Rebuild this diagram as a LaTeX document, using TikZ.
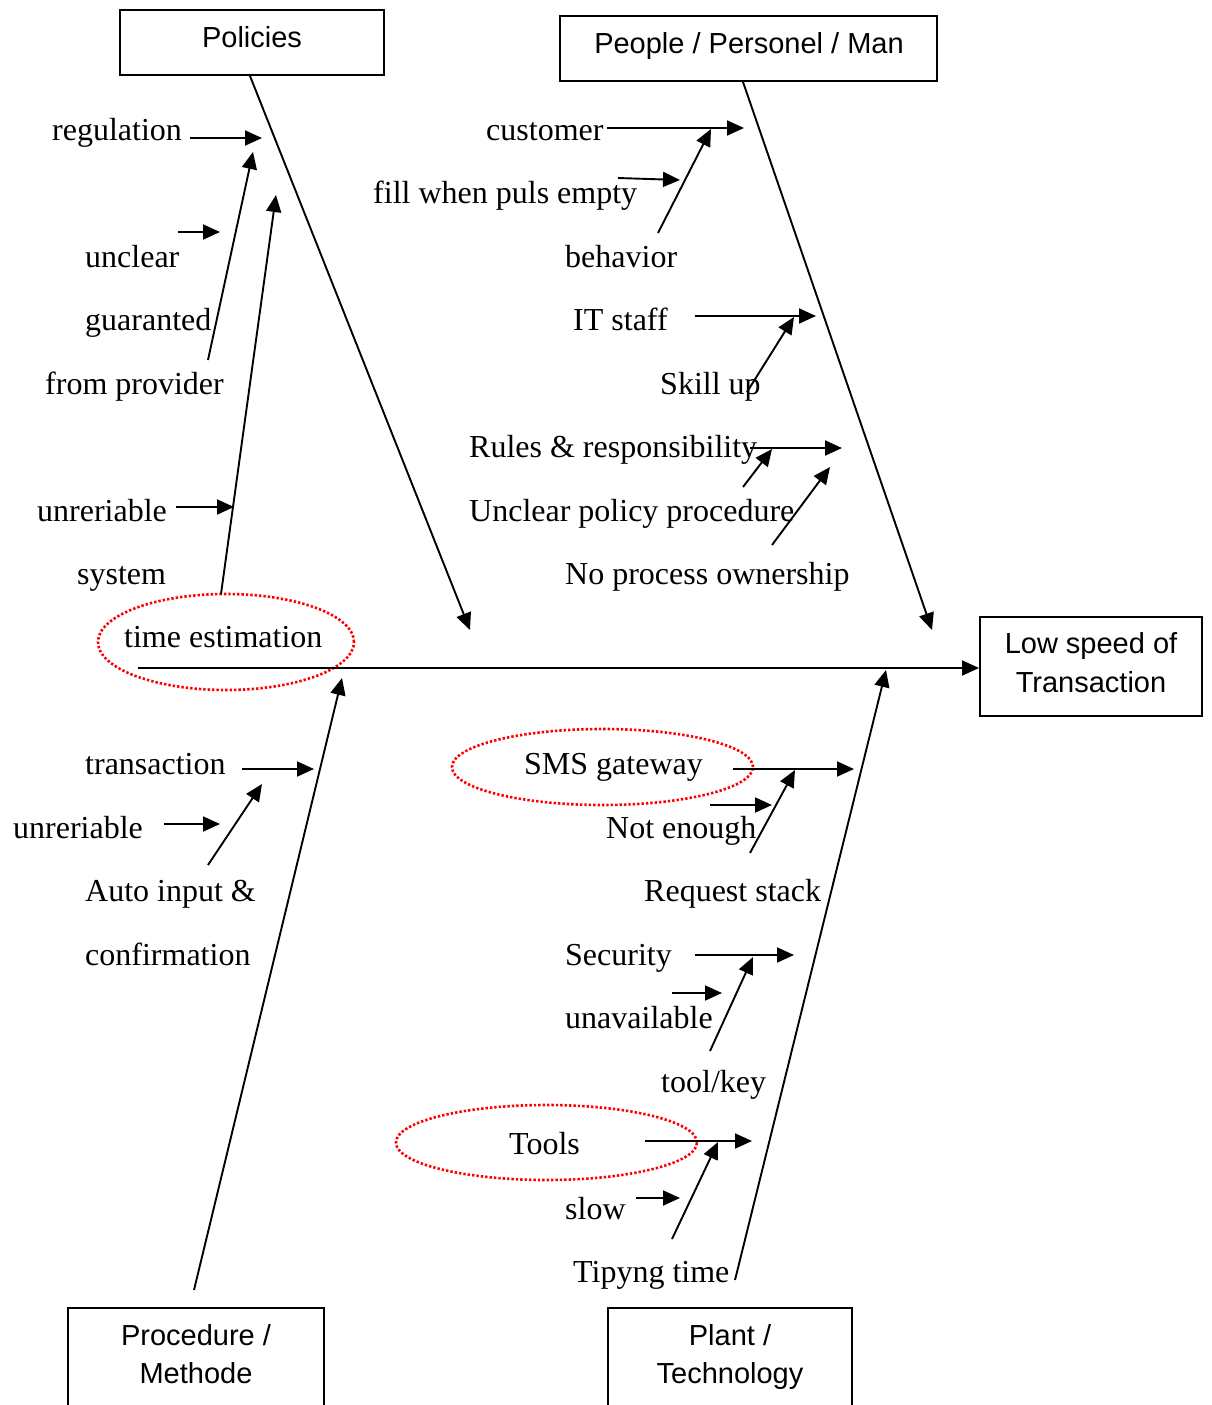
\documentclass[tikz,border=0pt]{standalone}
\usepackage{fontspec}
\setmainfont{Liberation Serif}
\setsansfont{Liberation Sans}
\usetikzlibrary{arrows.meta,shapes.geometric}
\begin{document}
\begin{tikzpicture}[x=1pt,y=-1pt,
  lbl/.style={font=\fontsize{32}{38}\selectfont, inner sep=0pt, anchor=base west},
  stxt/.style={font=\sffamily\fontsize{29}{39}\selectfont, inner sep=0pt, anchor=base},
  box/.style={draw, line width=1.9pt, inner sep=0pt, rectangle},
  arr/.style={line width=1.9pt, -{Triangle[length=17pt,width=15pt]}},
  bone/.style={line width=1.9pt},
  ring/.style={draw=red, line width=2.6pt, dash pattern=on 2.4pt off 2pt, ellipse, inner sep=0pt}]
\useasboundingbox (0,0) rectangle (1211,1405);
\clip (0,0) rectangle (1211,1405);
\fill[white] (0,0) rectangle (1211,1405);

% ---------- category boxes ----------
\node[box, minimum width=264, minimum height=65] (policies) at (252,42.5) {};
\node[stxt] (policiesT) at (252,48) {Policies};
\node[box, minimum width=377, minimum height=65] (people) at (748.5,48.5) {};
\node[stxt] (peopleT) at (749,53) {People / Personel / Man};
\node[box, minimum width=222, minimum height=99] (effect) at (1091,666.5) {};
\node[stxt] (effectT1) at (1091,653) {Low speed of};
\node[stxt] (effectT2) at (1091,692) {Transaction};
\node[box, minimum width=256, minimum height=130, anchor=north] (proc) at (196,1307) {};
\node[stxt] (procT1) at (196,1345) {Procedure /};
\node[stxt] (procT2) at (196,1383) {Methode};
\node[box, minimum width=244, minimum height=130, anchor=north] (plant) at (730,1307) {};
\node[stxt] (plantT1) at (730,1345) {Plant /};
\node[stxt] (plantT2) at (730,1383) {Technology};

% ---------- highlight rings ----------
\node[ring, minimum width=256, minimum height=96] (ringTime) at (226,642) {};
\node[ring, minimum width=301, minimum height=76] (ringSMS) at (602.5,767) {};
\node[ring, minimum width=301, minimum height=75] (ringTools) at (546.5,1142.5) {};

% ---------- spine ----------
\coordinate (spine0) at (138,668);
\draw[arr] (spine0) -- (spine0 -| effect.west);

% ---------- main bones ----------
\coordinate (ppx) at (743,0);
\coordinate (pox) at (250,0);
\coordinate (polTip) at (470,630);
\coordinate (pepTip) at (932,630);
\coordinate (procStart) at (194,1290);
\coordinate (procTip) at (342,678);
\coordinate (plantStart) at (735,1280);
\coordinate (plantTip) at (886,670);
\draw[arr] (policies.south -| pox) -- (polTip);
\draw[arr] (people.south -| ppx) -- (pepTip);
\draw[arr] (procStart) -- (procTip);
\draw[arr] (plantStart) -- (plantTip);

% ---------- Policies side ----------
\node[lbl] (regulation) at (52,140) {regulation};
\node[lbl] (unclear) at (85,267) {unclear};
\node[lbl] (guaranted) at (85,330) {guaranted};
\node[lbl] (fromprov) at (45,394) {from provider};
\node[lbl] (unrel1) at (37,521) {unreriable};
\node[lbl] (system) at (77,584) {system};
\node[lbl] (timeest) at (124,647) {time estimation};

\coordinate (r1s) at (190,138); \coordinate (r1e) at (262,138);
\coordinate (r2s) at (208,360); \coordinate (r2e) at (253,152);
\coordinate (r3s) at (178,232); \coordinate (r3e) at (220,232);
\coordinate (r4s) at (221,594); \coordinate (r4e) at (276,195);
\coordinate (r5s) at (176,507); \coordinate (r5e) at (234,507);
\draw[arr] (r1s) -- (r1e);
\draw[arr] (r2s) -- (r2e);
\draw[arr] (r3s) -- (r3e);
\draw[arr] (r4s) -- (r4e);
\draw[arr] (r5s) -- (r5e);

% ---------- People side ----------
\node[lbl] (customer) at (486,140) {customer};
\node[lbl] (fill) at (373,203) {fill when puls empty};
\node[lbl] (behavior) at (565,267) {behavior};
\node[lbl] (itstaff) at (573,330) {IT staff};
\node[lbl] (skillup) at (660,394) {Skill up};
\node[lbl] (rules) at (469,457) {Rules \& responsibility};
\node[lbl] (uncpol) at (469,521) {Unclear policy procedure};
\node[lbl] (noproc) at (565,584) {No process ownership};

\coordinate (p1s) at (607,128); \coordinate (p1e) at (744,128);
\coordinate (p2s) at (618,178); \coordinate (p2e) at (680,180);
\coordinate (p3s) at (658,233); \coordinate (p3e) at (711,129);
\coordinate (p4s) at (695,316); \coordinate (p4e) at (816,316);
\coordinate (p5s) at (747,392); \coordinate (p5e) at (794,317);
\coordinate (p6s) at (750,448); \coordinate (p6e) at (842,448);
\coordinate (p7s) at (743,487); \coordinate (p7e) at (772,449);
\coordinate (p8s) at (772,545); \coordinate (p8e) at (830,467);
\draw[arr] (p1s) -- (p1e);
\draw[arr] (p2s) -- (p2e);
\draw[arr] (p3s) -- (p3e);
\draw[arr] (p4s) -- (p4e);
\draw[arr] (p5s) -- (p5e);
\draw[arr] (p6s) -- (p6e);
\draw[arr] (p7s) -- (p7e);
\draw[arr] (p8s) -- (p8e);

% ---------- Procedure side ----------
\node[lbl] (transaction) at (85,774) {transaction};
\node[lbl] (unrel2) at (13,838) {unreriable};
\node[lbl] (autoin) at (85,901) {Auto input \&};
\node[lbl] (confirm) at (85,965) {confirmation};

\coordinate (m1s) at (242,769); \coordinate (m1e) at (314,769);
\coordinate (m2s) at (164,824); \coordinate (m2e) at (220,824);
\coordinate (m3s) at (208,865); \coordinate (m3e) at (262,784);
\draw[arr] (m1s) -- (m1e);
\draw[arr] (m2s) -- (m2e);
\draw[arr] (m3s) -- (m3e);

% ---------- Plant side ----------
\node[lbl] (sms) at (524,774) {SMS gateway};
\node[lbl] (notenough) at (606,838) {Not enough};
\node[lbl] (reqstack) at (644,901) {Request stack};
\node[lbl] (security) at (565,965) {Security};
\node[lbl] (unavail) at (565,1028) {unavailable};
\node[lbl] (toolkey) at (661,1092) {tool/key};
\node[lbl] (tools) at (509,1154) {Tools};
\node[lbl] (slow) at (565,1219) {slow};
\node[lbl] (tipyng) at (573,1282) {Tipyng time};

\coordinate (t1s) at (733,769); \coordinate (t1e) at (854,769);
\coordinate (t2s) at (710,805); \coordinate (t2e) at (772,805);
\coordinate (t3s) at (750,853); \coordinate (t3e) at (795,770);
\coordinate (t4s) at (695,955); \coordinate (t4e) at (794,955);
\coordinate (t5s) at (672,993); \coordinate (t5e) at (722,993);
\coordinate (t6s) at (710,1051); \coordinate (t6e) at (753,957);
\coordinate (t7s) at (645,1141); \coordinate (t7e) at (752,1141);
\coordinate (t8s) at (636,1198); \coordinate (t8e) at (680,1198);
\coordinate (t9s) at (672,1239); \coordinate (t9e) at (718,1142);
\draw[arr] (t1s) -- (t1e);
\draw[arr] (t2s) -- (t2e);
\draw[arr] (t3s) -- (t3e);
\draw[arr] (t4s) -- (t4e);
\draw[arr] (t5s) -- (t5e);
\draw[arr] (t6s) -- (t6e);
\draw[arr] (t7s) -- (t7e);
\draw[arr] (t8s) -- (t8e);
\draw[arr] (t9s) -- (t9e);
\end{tikzpicture}
\end{document}
